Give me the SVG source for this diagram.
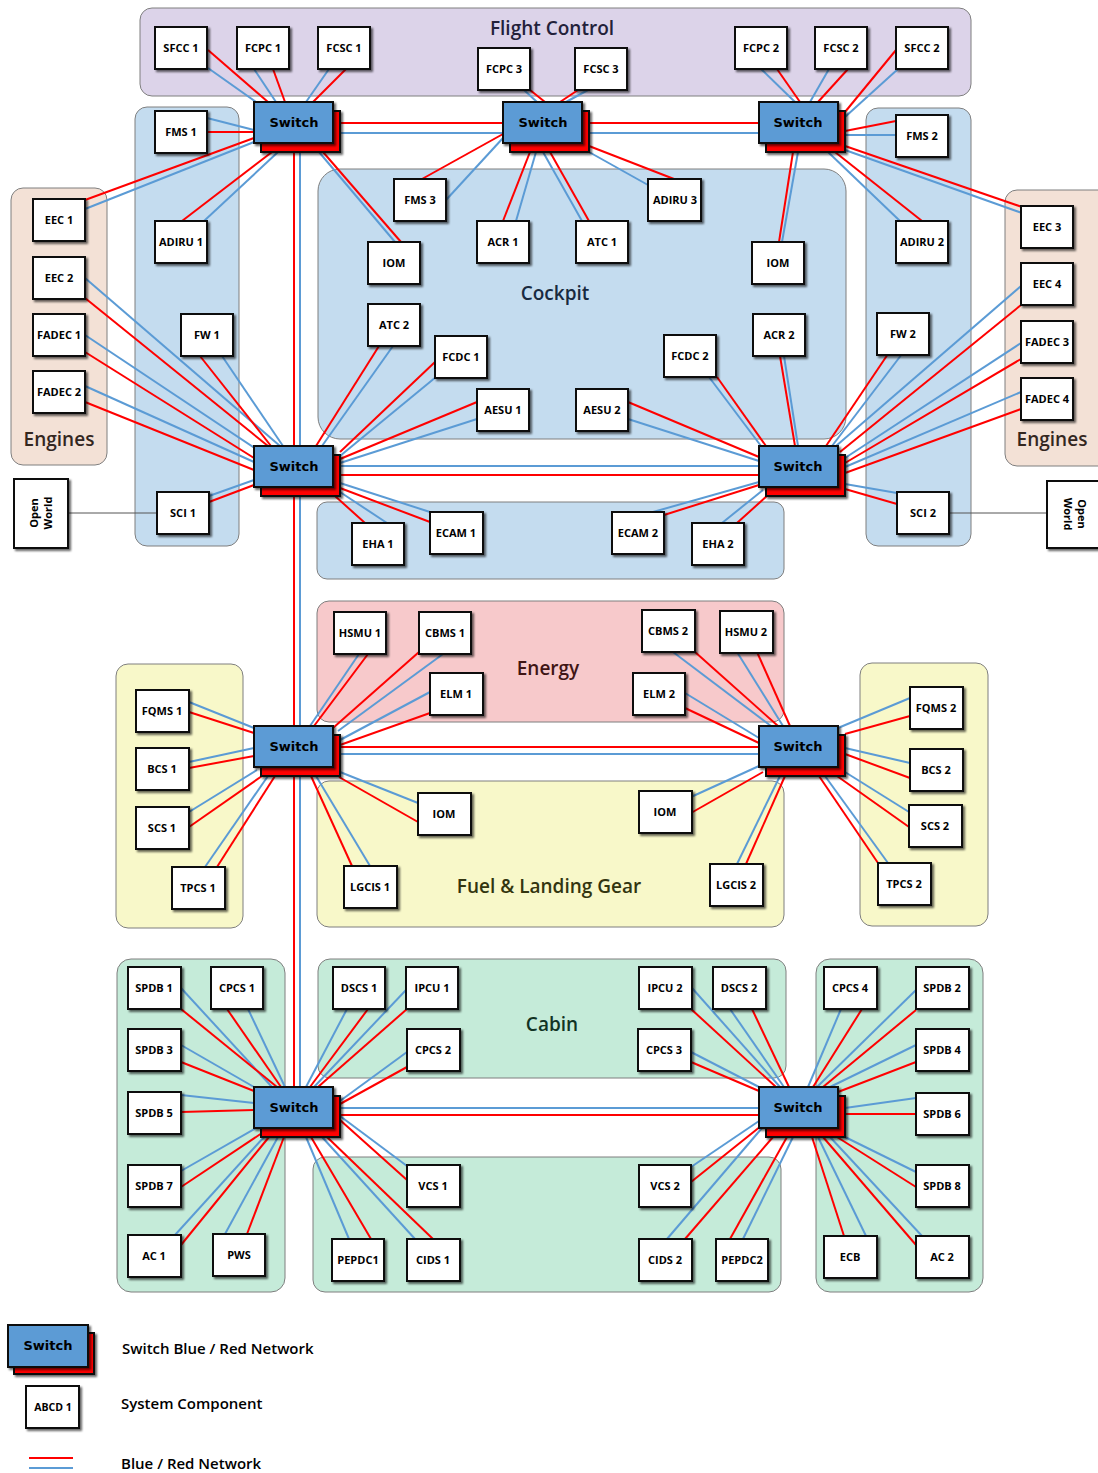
<svg xmlns="http://www.w3.org/2000/svg" width="1098" height="1473" viewBox="0 0 1098 1473">
<defs>
<filter id="sh" x="-20%" y="-20%" width="150%" height="150%"><feDropShadow dx="2" dy="2" stdDeviation="1.2" flood-color="#000" flood-opacity="0.6"/></filter>
<style>
.grp{stroke:#7f7f7f;stroke-width:1}
.fc{fill:#dcd3e9}.bl{fill:#c4dcef}.en{fill:#f3e1d6}.ey{fill:#f7c9cb}.fu{fill:#f8f8c9}.ca{fill:#c5ebd9}
.ttl{font-family:"Open Sans",sans-serif;font-weight:600;font-size:19px;text-anchor:middle}
.box{fill:#fff;stroke:#111;stroke-width:2;filter:url(#sh)}
.lbl{font-family:"Open Sans",sans-serif;font-weight:700;font-size:11px;text-anchor:middle;fill:#000}
.swb{fill:#5b9bd5;stroke:#111;stroke-width:2;filter:url(#sh)}
.swr{fill:#ff0000;stroke:#111;stroke-width:2;filter:url(#sh)}
.swt{font-family:"DejaVu Sans",sans-serif;font-weight:700;font-size:13px;text-anchor:middle;fill:#000}
.r{stroke:#ff0000;stroke-width:2}
.b{stroke:#5b9bd5;stroke-width:2}
.ow{stroke:#555;stroke-width:1}
.leg{font-family:"Open Sans",sans-serif;font-weight:600;font-size:15px;fill:#000}
</style>
</defs>
<rect width="1098" height="1473" fill="#fff"/>
<g id="groups">
<g id="g-flight"><rect class="grp fc" x="140" y="8" width="831" height="88" rx="12"/><text class="ttl" x="552" y="35" fill="#23213a">Flight Control</text></g>
<g id="g-leftcol"><rect class="grp bl" x="135" y="107" width="104" height="439" rx="12"/></g>
<g id="g-rightcol"><rect class="grp bl" x="866" y="108" width="105" height="438" rx="12"/></g>
<g id="g-eng1"><rect class="grp en" x="11" y="188" width="96" height="277" rx="12"/><text class="ttl" x="59" y="446" fill="#33271f">Engines</text></g>
<g id="g-eng2"><rect class="grp en" x="1005" y="190" width="105" height="276" rx="12"/><text class="ttl" x="1052" y="446" fill="#33271f">Engines</text></g>
<g id="g-cockpit"><rect class="grp bl" x="318" y="169" width="528" height="270" rx="22"/><text class="ttl" x="555" y="300" fill="#182a40">Cockpit</text></g>
<g id="g-eha"><rect class="grp bl" x="317" y="502" width="467" height="77" rx="10"/></g>
<g id="g-energy"><rect class="grp ey" x="317" y="601" width="467" height="121" rx="12"/><text class="ttl" x="548" y="675" fill="#401515">Energy</text></g>
<g id="g-fuel1"><rect class="grp fu" x="116" y="664" width="127" height="264" rx="12"/></g>
<g id="g-fuel"><rect class="grp fu" x="317" y="781" width="467" height="146" rx="12"/><text class="ttl" x="549" y="893" fill="#33350f">Fuel &amp; Landing Gear</text></g>
<g id="g-fuel2"><rect class="grp fu" x="860" y="663" width="128" height="263" rx="12"/></g>
<g id="g-cab1"><rect class="grp ca" x="117" y="959" width="168" height="333" rx="14"/></g>
<g id="g-cabtop"><rect class="grp ca" x="318" y="959" width="468" height="119" rx="12"/><text class="ttl" x="552" y="1031" fill="#113324">Cabin</text></g>
<g id="g-cabbot"><rect class="grp ca" x="313" y="1157" width="468" height="135" rx="12"/></g>
<g id="g-cab2"><rect class="grp ca" x="816" y="959" width="167" height="333" rx="14"/></g>
</g>
<g id="connectors">
<line class="ow" x1="68" y1="513" x2="157" y2="513"/>
<line class="ow" x1="949" y1="513" x2="1047" y2="513"/>
<line class="r" x1="294" y1="150" x2="294" y2="1090"/>
<line class="b" x1="300" y1="150" x2="300" y2="1090"/>
<line class="r" x1="208" y1="50" x2="268" y2="102"/>
<line class="b" x1="208" y1="68" x2="256" y2="102"/>
<line class="b" x1="254" y1="69" x2="276" y2="102"/>
<line class="r" x1="273" y1="69" x2="285" y2="102"/>
<line class="b" x1="329" y1="69" x2="306" y2="102"/>
<line class="r" x1="346" y1="69" x2="313" y2="102"/>
<line class="b" x1="207" y1="118" x2="254" y2="130"/>
<line class="r" x1="207" y1="132" x2="254" y2="132"/>
<line class="r" x1="85" y1="200" x2="254" y2="138"/>
<line class="b" x1="85" y1="209" x2="254" y2="142"/>
<line class="r" x1="182" y1="221" x2="272" y2="152"/>
<line class="b" x1="204" y1="221" x2="278" y2="152"/>
<line class="b" x1="319" y1="152" x2="395" y2="242"/>
<line class="r" x1="323" y1="152" x2="401" y2="242"/>
<line class="r" x1="340" y1="123" x2="503" y2="123"/>
<line class="b" x1="340" y1="133" x2="503" y2="133"/>
<line class="r" x1="530" y1="90" x2="545" y2="102"/>
<line class="b" x1="524" y1="90" x2="537" y2="102"/>
<line class="r" x1="578" y1="90" x2="560" y2="102"/>
<line class="b" x1="588" y1="90" x2="566" y2="102"/>
<line class="r" x1="422" y1="179" x2="503" y2="134"/>
<line class="b" x1="446" y1="200" x2="503" y2="138"/>
<line class="r" x1="503" y1="221" x2="530" y2="152"/>
<line class="b" x1="516" y1="221" x2="536" y2="152"/>
<line class="b" x1="582" y1="221" x2="543" y2="152"/>
<line class="r" x1="589" y1="221" x2="550" y2="152"/>
<line class="r" x1="674" y1="179" x2="589" y2="146"/>
<line class="b" x1="648" y1="185" x2="589" y2="152"/>
<line class="r" x1="589" y1="123" x2="759" y2="123"/>
<line class="b" x1="589" y1="133" x2="759" y2="133"/>
<line class="b" x1="761" y1="69" x2="795" y2="102"/>
<line class="r" x1="777" y1="69" x2="800" y2="102"/>
<line class="b" x1="829" y1="69" x2="810" y2="102"/>
<line class="r" x1="848" y1="69" x2="818" y2="102"/>
<line class="r" x1="896" y1="50" x2="845" y2="112"/>
<line class="b" x1="898" y1="69" x2="845" y2="117"/>
<line class="r" x1="896" y1="121" x2="845" y2="131"/>
<line class="b" x1="896" y1="135" x2="845" y2="135"/>
<line class="r" x1="845" y1="146" x2="1022" y2="207"/>
<line class="b" x1="845" y1="150" x2="1022" y2="213"/>
<line class="b" x1="828" y1="152" x2="900" y2="221"/>
<line class="r" x1="835" y1="152" x2="922" y2="221"/>
<line class="r" x1="793" y1="152" x2="779" y2="242"/>
<line class="b" x1="798" y1="152" x2="782" y2="242"/>
<line class="b" x1="85" y1="278" x2="280" y2="446"/>
<line class="r" x1="85" y1="298" x2="268" y2="446"/>
<line class="b" x1="85" y1="335" x2="256" y2="449"/>
<line class="r" x1="85" y1="352" x2="254" y2="458"/>
<line class="b" x1="85" y1="386" x2="254" y2="462"/>
<line class="r" x1="85" y1="402" x2="254" y2="470"/>
<line class="r" x1="200" y1="356" x2="271" y2="446"/>
<line class="b" x1="222" y1="356" x2="283" y2="446"/>
<line class="b" x1="209" y1="496" x2="254" y2="480"/>
<line class="r" x1="209" y1="502" x2="254" y2="485"/>
<line class="r" x1="379" y1="346" x2="316" y2="446"/>
<line class="b" x1="393" y1="346" x2="322" y2="446"/>
<line class="r" x1="435" y1="362" x2="340" y2="452"/>
<line class="b" x1="436" y1="377" x2="340" y2="456"/>
<line class="r" x1="477" y1="402" x2="340" y2="459"/>
<line class="b" x1="477" y1="419" x2="340" y2="463"/>
<line class="r" x1="335" y1="496" x2="365" y2="523"/>
<line class="b" x1="340" y1="492" x2="387" y2="523"/>
<line class="b" x1="340" y1="483" x2="430" y2="512"/>
<line class="r" x1="340" y1="488" x2="430" y2="522"/>
<line class="b" x1="340" y1="466" x2="759" y2="466"/>
<line class="r" x1="340" y1="475" x2="759" y2="475"/>
<line class="r" x1="628" y1="402" x2="759" y2="457"/>
<line class="b" x1="628" y1="419" x2="759" y2="461"/>
<line class="b" x1="709" y1="377" x2="761" y2="446"/>
<line class="r" x1="717" y1="377" x2="766" y2="446"/>
<line class="r" x1="780" y1="356" x2="795" y2="446"/>
<line class="b" x1="784" y1="356" x2="798" y2="446"/>
<line class="b" x1="653" y1="512" x2="759" y2="482"/>
<line class="r" x1="664" y1="515" x2="759" y2="485"/>
<line class="b" x1="722" y1="523" x2="763" y2="490"/>
<line class="r" x1="737" y1="523" x2="768" y2="495"/>
<line class="r" x1="888" y1="354" x2="826" y2="446"/>
<line class="b" x1="902" y1="354" x2="832" y2="446"/>
<line class="b" x1="1021" y1="286" x2="836" y2="446"/>
<line class="r" x1="1021" y1="305" x2="840" y2="452"/>
<line class="b" x1="1021" y1="343" x2="845" y2="458"/>
<line class="r" x1="1021" y1="359" x2="845" y2="463"/>
<line class="b" x1="1021" y1="392" x2="845" y2="467"/>
<line class="r" x1="1021" y1="409" x2="845" y2="473"/>
<line class="b" x1="845" y1="484" x2="897" y2="493"/>
<line class="r" x1="845" y1="489" x2="897" y2="504"/>
<line class="b" x1="359" y1="654" x2="310" y2="726"/>
<line class="r" x1="368" y1="654" x2="314" y2="726"/>
<line class="r" x1="419" y1="652" x2="333" y2="728"/>
<line class="b" x1="443" y1="654" x2="338" y2="731"/>
<line class="b" x1="430" y1="692" x2="340" y2="740"/>
<line class="r" x1="430" y1="713" x2="340" y2="745"/>
<line class="b" x1="189" y1="702" x2="254" y2="728"/>
<line class="r" x1="189" y1="712" x2="254" y2="733"/>
<line class="b" x1="189" y1="762" x2="254" y2="748"/>
<line class="r" x1="189" y1="768" x2="254" y2="756"/>
<line class="b" x1="189" y1="812" x2="257" y2="770"/>
<line class="r" x1="189" y1="827" x2="262" y2="776"/>
<line class="b" x1="205" y1="867" x2="268" y2="776"/>
<line class="r" x1="217" y1="867" x2="275" y2="776"/>
<line class="b" x1="340" y1="772" x2="418" y2="803"/>
<line class="r" x1="339" y1="777" x2="418" y2="822"/>
<line class="r" x1="311" y1="776" x2="352" y2="866"/>
<line class="b" x1="316" y1="776" x2="370" y2="866"/>
<line class="r" x1="340" y1="747" x2="759" y2="747"/>
<line class="b" x1="340" y1="754" x2="759" y2="754"/>
<line class="b" x1="673" y1="652" x2="771" y2="726"/>
<line class="r" x1="695" y1="652" x2="778" y2="726"/>
<line class="b" x1="737" y1="652" x2="783" y2="726"/>
<line class="r" x1="757" y1="652" x2="790" y2="726"/>
<line class="b" x1="685" y1="693" x2="759" y2="738"/>
<line class="r" x1="685" y1="708" x2="759" y2="743"/>
<line class="b" x1="910" y1="698" x2="838" y2="728"/>
<line class="r" x1="910" y1="716" x2="845" y2="734"/>
<line class="b" x1="845" y1="748" x2="910" y2="763"/>
<line class="r" x1="845" y1="754" x2="910" y2="778"/>
<line class="b" x1="845" y1="772" x2="909" y2="812"/>
<line class="r" x1="837" y1="776" x2="909" y2="827"/>
<line class="r" x1="819" y1="776" x2="878" y2="863"/>
<line class="b" x1="825" y1="776" x2="888" y2="863"/>
<line class="b" x1="691" y1="797" x2="759" y2="766"/>
<line class="r" x1="691" y1="813" x2="763" y2="772"/>
<line class="b" x1="737" y1="864" x2="780" y2="776"/>
<line class="r" x1="746" y1="864" x2="785" y2="776"/>
<line class="b" x1="181" y1="988" x2="272" y2="1087"/>
<line class="r" x1="181" y1="1009" x2="277" y2="1087"/>
<line class="r" x1="227" y1="1009" x2="281" y2="1087"/>
<line class="b" x1="248" y1="1009" x2="285" y2="1087"/>
<line class="b" x1="181" y1="1045" x2="254" y2="1087"/>
<line class="r" x1="181" y1="1062" x2="254" y2="1091"/>
<line class="b" x1="181" y1="1095" x2="254" y2="1103"/>
<line class="r" x1="181" y1="1112" x2="254" y2="1110"/>
<line class="b" x1="181" y1="1171" x2="256" y2="1128"/>
<line class="r" x1="181" y1="1187" x2="262" y2="1133"/>
<line class="b" x1="175" y1="1235" x2="264" y2="1137"/>
<line class="r" x1="181" y1="1245" x2="269" y2="1137"/>
<line class="b" x1="225" y1="1234" x2="278" y2="1137"/>
<line class="r" x1="247" y1="1234" x2="284" y2="1137"/>
<line class="b" x1="347" y1="1009" x2="306" y2="1087"/>
<line class="r" x1="368" y1="1009" x2="310" y2="1087"/>
<line class="b" x1="406" y1="990" x2="314" y2="1087"/>
<line class="r" x1="407" y1="1009" x2="318" y2="1087"/>
<line class="b" x1="407" y1="1052" x2="340" y2="1101"/>
<line class="r" x1="407" y1="1067" x2="340" y2="1104"/>
<line class="b" x1="407" y1="1166" x2="340" y2="1116"/>
<line class="r" x1="407" y1="1180" x2="340" y2="1120"/>
<line class="b" x1="349" y1="1239" x2="306" y2="1137"/>
<line class="r" x1="371" y1="1239" x2="311" y2="1137"/>
<line class="b" x1="415" y1="1239" x2="322" y2="1137"/>
<line class="r" x1="433" y1="1239" x2="327" y2="1137"/>
<line class="b" x1="340" y1="1108" x2="759" y2="1108"/>
<line class="r" x1="340" y1="1115" x2="759" y2="1115"/>
<line class="b" x1="692" y1="988" x2="780" y2="1087"/>
<line class="r" x1="691" y1="1009" x2="776" y2="1087"/>
<line class="b" x1="730" y1="1009" x2="784" y2="1087"/>
<line class="r" x1="752" y1="1009" x2="789" y2="1087"/>
<line class="b" x1="691" y1="1052" x2="759" y2="1087"/>
<line class="r" x1="691" y1="1062" x2="759" y2="1091"/>
<line class="b" x1="691" y1="1167" x2="759" y2="1121"/>
<line class="r" x1="691" y1="1182" x2="761" y2="1126"/>
<line class="b" x1="667" y1="1239" x2="762" y2="1128"/>
<line class="r" x1="685" y1="1239" x2="773" y2="1137"/>
<line class="r" x1="730" y1="1239" x2="787" y2="1137"/>
<line class="b" x1="743" y1="1239" x2="793" y2="1137"/>
<line class="b" x1="841" y1="1009" x2="808" y2="1087"/>
<line class="r" x1="862" y1="1009" x2="813" y2="1087"/>
<line class="b" x1="916" y1="990" x2="817" y2="1087"/>
<line class="r" x1="916" y1="1010" x2="823" y2="1087"/>
<line class="b" x1="916" y1="1045" x2="830" y2="1087"/>
<line class="r" x1="916" y1="1062" x2="838" y2="1092"/>
<line class="b" x1="916" y1="1098" x2="845" y2="1108"/>
<line class="r" x1="916" y1="1114" x2="845" y2="1114"/>
<line class="b" x1="916" y1="1172" x2="845" y2="1137"/>
<line class="r" x1="916" y1="1187" x2="837" y2="1137"/>
<line class="r" x1="844" y1="1236" x2="812" y2="1137"/>
<line class="b" x1="866" y1="1236" x2="818" y2="1137"/>
<line class="r" x1="916" y1="1245" x2="823" y2="1137"/>
<line class="b" x1="922" y1="1236" x2="830" y2="1137"/>
</g>
<g id="switches">
<g id="sw-1"><rect class="swr" x="261" y="111" width="79" height="41"/><rect class="swb" x="254" y="102" width="79" height="41"/><text class="swt" x="294" y="127">Switch</text></g>
<g id="sw-2"><rect class="swr" x="510" y="111" width="79" height="41"/><rect class="swb" x="503" y="102" width="79" height="41"/><text class="swt" x="543" y="127">Switch</text></g>
<g id="sw-3"><rect class="swr" x="766" y="111" width="79" height="41"/><rect class="swb" x="759" y="102" width="79" height="41"/><text class="swt" x="798" y="127">Switch</text></g>
<g id="sw-4"><rect class="swr" x="261" y="455" width="79" height="41"/><rect class="swb" x="254" y="446" width="79" height="41"/><text class="swt" x="294" y="471">Switch</text></g>
<g id="sw-5"><rect class="swr" x="766" y="455" width="79" height="41"/><rect class="swb" x="759" y="446" width="79" height="41"/><text class="swt" x="798" y="471">Switch</text></g>
<g id="sw-6"><rect class="swr" x="261" y="735" width="79" height="41"/><rect class="swb" x="254" y="726" width="79" height="41"/><text class="swt" x="294" y="751">Switch</text></g>
<g id="sw-7"><rect class="swr" x="766" y="735" width="79" height="41"/><rect class="swb" x="759" y="726" width="79" height="41"/><text class="swt" x="798" y="751">Switch</text></g>
<g id="sw-8"><rect class="swr" x="261" y="1096" width="79" height="41"/><rect class="swb" x="254" y="1087" width="79" height="41"/><text class="swt" x="294" y="1112">Switch</text></g>
<g id="sw-9"><rect class="swr" x="766" y="1096" width="79" height="41"/><rect class="swb" x="759" y="1087" width="79" height="41"/><text class="swt" x="798" y="1112">Switch</text></g>
</g>
<g id="nodes">
<g id="n-sfcc1"><rect class="box" x="155" y="27" width="52" height="42"/><text class="lbl" x="181" y="52">SFCC 1</text></g>
<g id="n-fcpc1"><rect class="box" x="237" y="27" width="52" height="42"/><text class="lbl" x="263" y="52">FCPC 1</text></g>
<g id="n-fcsc1"><rect class="box" x="318" y="27" width="52" height="42"/><text class="lbl" x="344" y="52">FCSC 1</text></g>
<g id="n-fcpc3"><rect class="box" x="478" y="48" width="52" height="42"/><text class="lbl" x="504" y="73">FCPC 3</text></g>
<g id="n-fcsc3"><rect class="box" x="575" y="48" width="52" height="42"/><text class="lbl" x="601" y="73">FCSC 3</text></g>
<g id="n-fcpc2"><rect class="box" x="735" y="27" width="52" height="42"/><text class="lbl" x="761" y="52">FCPC 2</text></g>
<g id="n-fcsc2"><rect class="box" x="815" y="27" width="52" height="42"/><text class="lbl" x="841" y="52">FCSC 2</text></g>
<g id="n-sfcc2"><rect class="box" x="896" y="27" width="52" height="42"/><text class="lbl" x="922" y="52">SFCC 2</text></g>
<g id="n-fms1"><rect class="box" x="155" y="111" width="52" height="42"/><text class="lbl" x="181" y="136">FMS 1</text></g>
<g id="n-adiru1"><rect class="box" x="155" y="221" width="52" height="42"/><text class="lbl" x="181" y="246">ADIRU 1</text></g>
<g id="n-fw1"><rect class="box" x="181" y="314" width="52" height="42"/><text class="lbl" x="207" y="339">FW 1</text></g>
<g id="n-sci1"><rect class="box" x="157" y="492" width="52" height="42"/><text class="lbl" x="183" y="517">SCI 1</text></g>
<g id="n-eec1"><rect class="box" x="33" y="199" width="52" height="42"/><text class="lbl" x="59" y="224">EEC 1</text></g>
<g id="n-eec2"><rect class="box" x="33" y="257" width="52" height="42"/><text class="lbl" x="59" y="282">EEC 2</text></g>
<g id="n-fadec1"><rect class="box" x="33" y="314" width="52" height="42"/><text class="lbl" x="59" y="339">FADEC 1</text></g>
<g id="n-fadec2"><rect class="box" x="33" y="371" width="52" height="42"/><text class="lbl" x="59" y="396">FADEC 2</text></g>
<g id="n-ow1"><rect class="box" x="14" y="479" width="54" height="69"/><text class="lbl" transform="translate(41 513) rotate(-90)"><tspan x="0" y="-3">Open</tspan><tspan x="0" y="11">World</tspan></text></g>
<g id="n-fms2"><rect class="box" x="896" y="115" width="52" height="42"/><text class="lbl" x="922" y="140">FMS 2</text></g>
<g id="n-adiru2"><rect class="box" x="896" y="221" width="52" height="42"/><text class="lbl" x="922" y="246">ADIRU 2</text></g>
<g id="n-fw2"><rect class="box" x="877" y="313" width="52" height="42"/><text class="lbl" x="903" y="338">FW 2</text></g>
<g id="n-sci2"><rect class="box" x="897" y="492" width="52" height="42"/><text class="lbl" x="923" y="517">SCI 2</text></g>
<g id="n-eec3"><rect class="box" x="1021" y="206" width="52" height="42"/><text class="lbl" x="1047" y="231">EEC 3</text></g>
<g id="n-eec4"><rect class="box" x="1021" y="263" width="52" height="42"/><text class="lbl" x="1047" y="288">EEC 4</text></g>
<g id="n-fadec3"><rect class="box" x="1021" y="321" width="52" height="42"/><text class="lbl" x="1047" y="346">FADEC 3</text></g>
<g id="n-fadec4"><rect class="box" x="1021" y="378" width="52" height="42"/><text class="lbl" x="1047" y="403">FADEC 4</text></g>
<g id="n-ow2"><rect class="box" x="1047" y="481" width="60" height="67"/><text class="lbl" transform="translate(1075 514) rotate(90)"><tspan x="0" y="-3">Open</tspan><tspan x="0" y="11">World</tspan></text></g>
<g id="n-fms3"><rect class="box" x="394" y="179" width="52" height="42"/><text class="lbl" x="420" y="204">FMS 3</text></g>
<g id="n-acr1"><rect class="box" x="477" y="221" width="52" height="42"/><text class="lbl" x="503" y="246">ACR 1</text></g>
<g id="n-atc1"><rect class="box" x="576" y="221" width="52" height="42"/><text class="lbl" x="602" y="246">ATC 1</text></g>
<g id="n-adiru3"><rect class="box" x="648" y="179" width="53" height="42"/><text class="lbl" x="675" y="204">ADIRU 3</text></g>
<g id="n-iom1"><rect class="box" x="368" y="242" width="52" height="42"/><text class="lbl" x="394" y="267">IOM</text></g>
<g id="n-iom2"><rect class="box" x="752" y="242" width="52" height="42"/><text class="lbl" x="778" y="267">IOM</text></g>
<g id="n-atc2"><rect class="box" x="368" y="304" width="52" height="42"/><text class="lbl" x="394" y="329">ATC 2</text></g>
<g id="n-fcdc1"><rect class="box" x="435" y="336" width="52" height="42"/><text class="lbl" x="461" y="361">FCDC 1</text></g>
<g id="n-acr2"><rect class="box" x="753" y="314" width="52" height="42"/><text class="lbl" x="779" y="339">ACR 2</text></g>
<g id="n-fcdc2"><rect class="box" x="664" y="335" width="52" height="42"/><text class="lbl" x="690" y="360">FCDC 2</text></g>
<g id="n-aesu1"><rect class="box" x="477" y="389" width="52" height="42"/><text class="lbl" x="503" y="414">AESU 1</text></g>
<g id="n-aesu2"><rect class="box" x="576" y="389" width="52" height="42"/><text class="lbl" x="602" y="414">AESU 2</text></g>
<g id="n-eha1"><rect class="box" x="352" y="523" width="52" height="42"/><text class="lbl" x="378" y="548">EHA 1</text></g>
<g id="n-ecam1"><rect class="box" x="430" y="512" width="53" height="42"/><text class="lbl" x="456" y="537">ECAM 1</text></g>
<g id="n-ecam2"><rect class="box" x="612" y="512" width="52" height="42"/><text class="lbl" x="638" y="537">ECAM 2</text></g>
<g id="n-eha2"><rect class="box" x="692" y="523" width="52" height="42"/><text class="lbl" x="718" y="548">EHA 2</text></g>
<g id="n-hsmu1"><rect class="box" x="334" y="612" width="52" height="42"/><text class="lbl" x="360" y="637">HSMU 1</text></g>
<g id="n-cbms1"><rect class="box" x="419" y="612" width="52" height="42"/><text class="lbl" x="445" y="637">CBMS 1</text></g>
<g id="n-elm1"><rect class="box" x="430" y="673" width="53" height="42"/><text class="lbl" x="456" y="698">ELM 1</text></g>
<g id="n-cbms2"><rect class="box" x="642" y="610" width="53" height="42"/><text class="lbl" x="668" y="635">CBMS 2</text></g>
<g id="n-hsmu2"><rect class="box" x="720" y="611" width="53" height="42"/><text class="lbl" x="746" y="636">HSMU 2</text></g>
<g id="n-elm2"><rect class="box" x="633" y="673" width="52" height="42"/><text class="lbl" x="659" y="698">ELM 2</text></g>
<g id="n-fqms1"><rect class="box" x="136" y="690" width="53" height="42"/><text class="lbl" x="162" y="715">FQMS 1</text></g>
<g id="n-bcs1"><rect class="box" x="136" y="748" width="53" height="42"/><text class="lbl" x="162" y="773">BCS 1</text></g>
<g id="n-scs1"><rect class="box" x="136" y="807" width="53" height="42"/><text class="lbl" x="162" y="832">SCS 1</text></g>
<g id="n-tpcs1"><rect class="box" x="172" y="867" width="53" height="42"/><text class="lbl" x="198" y="892">TPCS 1</text></g>
<g id="n-iom3"><rect class="box" x="418" y="793" width="53" height="42"/><text class="lbl" x="444" y="818">IOM</text></g>
<g id="n-lgcis1"><rect class="box" x="344" y="866" width="53" height="42"/><text class="lbl" x="370" y="891">LGCIS 1</text></g>
<g id="n-iom4"><rect class="box" x="639" y="791" width="53" height="42"/><text class="lbl" x="665" y="816">IOM</text></g>
<g id="n-lgcis2"><rect class="box" x="710" y="864" width="53" height="42"/><text class="lbl" x="736" y="889">LGCIS 2</text></g>
<g id="n-fqms2"><rect class="box" x="910" y="687" width="53" height="42"/><text class="lbl" x="936" y="712">FQMS 2</text></g>
<g id="n-bcs2"><rect class="box" x="910" y="749" width="53" height="42"/><text class="lbl" x="936" y="774">BCS 2</text></g>
<g id="n-scs2"><rect class="box" x="909" y="805" width="53" height="42"/><text class="lbl" x="935" y="830">SCS 2</text></g>
<g id="n-tpcs2"><rect class="box" x="878" y="863" width="53" height="42"/><text class="lbl" x="904" y="888">TPCS 2</text></g>
<g id="n-spdb1"><rect class="box" x="128" y="967" width="53" height="42"/><text class="lbl" x="154" y="992">SPDB 1</text></g>
<g id="n-cpcs1"><rect class="box" x="211" y="967" width="52" height="42"/><text class="lbl" x="237" y="992">CPCS 1</text></g>
<g id="n-spdb3"><rect class="box" x="128" y="1029" width="53" height="42"/><text class="lbl" x="154" y="1054">SPDB 3</text></g>
<g id="n-spdb5"><rect class="box" x="128" y="1092" width="53" height="42"/><text class="lbl" x="154" y="1117">SPDB 5</text></g>
<g id="n-spdb7"><rect class="box" x="128" y="1165" width="53" height="42"/><text class="lbl" x="154" y="1190">SPDB 7</text></g>
<g id="n-ac1"><rect class="box" x="128" y="1235" width="53" height="42"/><text class="lbl" x="154" y="1260">AC 1</text></g>
<g id="n-pws"><rect class="box" x="213" y="1234" width="52" height="42"/><text class="lbl" x="239" y="1259">PWS</text></g>
<g id="n-dscs1"><rect class="box" x="333" y="967" width="52" height="42"/><text class="lbl" x="359" y="992">DSCS 1</text></g>
<g id="n-ipcu1"><rect class="box" x="406" y="967" width="52" height="42"/><text class="lbl" x="432" y="992">IPCU 1</text></g>
<g id="n-cpcs2"><rect class="box" x="407" y="1029" width="53" height="42"/><text class="lbl" x="433" y="1054">CPCS 2</text></g>
<g id="n-vcs1"><rect class="box" x="407" y="1165" width="53" height="42"/><text class="lbl" x="433" y="1190">VCS 1</text></g>
<g id="n-pepdc1"><rect class="box" x="332" y="1239" width="52" height="42"/><text class="lbl" x="358" y="1264">PEPDC1</text></g>
<g id="n-cids1"><rect class="box" x="407" y="1239" width="53" height="42"/><text class="lbl" x="433" y="1264">CIDS 1</text></g>
<g id="n-ipcu2"><rect class="box" x="639" y="967" width="53" height="42"/><text class="lbl" x="665" y="992">IPCU 2</text></g>
<g id="n-dscs2"><rect class="box" x="713" y="967" width="53" height="42"/><text class="lbl" x="739" y="992">DSCS 2</text></g>
<g id="n-cpcs3"><rect class="box" x="638" y="1029" width="53" height="42"/><text class="lbl" x="664" y="1054">CPCS 3</text></g>
<g id="n-vcs2"><rect class="box" x="639" y="1165" width="52" height="42"/><text class="lbl" x="665" y="1190">VCS 2</text></g>
<g id="n-cids2"><rect class="box" x="639" y="1239" width="53" height="42"/><text class="lbl" x="665" y="1264">CIDS 2</text></g>
<g id="n-pepdc2"><rect class="box" x="716" y="1239" width="52" height="42"/><text class="lbl" x="742" y="1264">PEPDC2</text></g>
<g id="n-cpcs4"><rect class="box" x="824" y="967" width="53" height="42"/><text class="lbl" x="850" y="992">CPCS 4</text></g>
<g id="n-spdb2"><rect class="box" x="916" y="967" width="53" height="42"/><text class="lbl" x="942" y="992">SPDB 2</text></g>
<g id="n-spdb4"><rect class="box" x="916" y="1029" width="53" height="42"/><text class="lbl" x="942" y="1054">SPDB 4</text></g>
<g id="n-spdb6"><rect class="box" x="916" y="1093" width="53" height="42"/><text class="lbl" x="942" y="1118">SPDB 6</text></g>
<g id="n-spdb8"><rect class="box" x="916" y="1165" width="53" height="42"/><text class="lbl" x="942" y="1190">SPDB 8</text></g>
<g id="n-ecb"><rect class="box" x="824" y="1236" width="53" height="42"/><text class="lbl" x="850" y="1261">ECB</text></g>
<g id="n-ac2"><rect class="box" x="916" y="1236" width="53" height="42"/><text class="lbl" x="942" y="1261">AC 2</text></g>
</g>
<g id="legend">
<g id="leg-switch"><rect class="swr" x="14" y="1333" width="80" height="41"/><rect class="swb" x="8" y="1325" width="80" height="42"/><text class="swt" x="48" y="1350">Switch</text></g>
<text class="leg" x="122" y="1354">Switch Blue / Red Network</text>
<g id="leg-comp"><rect class="box" x="26" y="1386" width="53" height="42"/><text class="lbl" x="53" y="1411" style="font-size:10.5px">ABCD 1</text></g>
<text class="leg" x="121" y="1409">System Component</text>
<line class="r" x1="29" y1="1458" x2="73" y2="1458"/>
<line class="b" x1="29" y1="1468" x2="73" y2="1468"/>
<text class="leg" x="121" y="1469">Blue / Red Network</text>
</g>
</svg>
